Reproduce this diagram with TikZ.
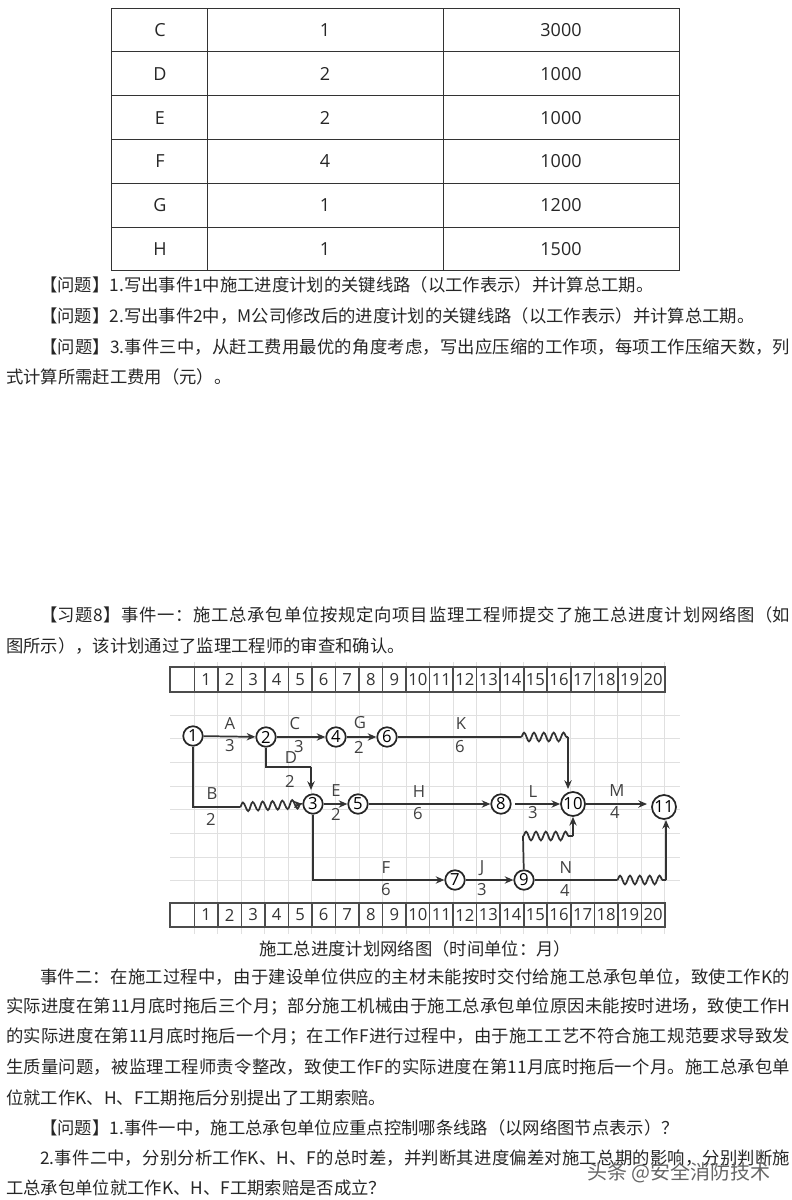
\documentclass[tikz,border=0pt]{standalone}
\usepackage{fontspec}
\setmainfont{Noto Sans CJK SC}
\newfontfamily\digitfont{Open Sans}
\usetikzlibrary{arrows.meta,decorations.pathmorphing}
\XeTeXlinebreaklocale "zh"
\XeTeXlinebreakskip=0pt plus 1.5pt minus 0.8pt
\newcommand{\bodyfont}{\fontsize{13pt}{16pt}\selectfont}
\newcommand{\gridfont}{\digitfont\fontsize{12.5pt}{14pt}\selectfont}
\tikzset{
    bodyline/.style={anchor=west, inner sep=0pt, font=\bodyfont, text=black!85},
    fullline/.style={bodyline, text width=#1, align=justify, execute at begin node={\parfillskip=0pt\relax}},
    tablecell/.style={inner sep=0pt, font=\digitfont\fontsize{13.5pt}{15pt}\selectfont, text=black!85},
    strip/.style={draw=black!70, line width=1.2pt},
    gridline/.style={black!12, line width=0.7pt},
    event/.style={draw=black!85, circle, fill=white, line width=1.3pt, minimum size=19.5*0.75pt, inner sep=0pt, font=\gridfont},
    bigevent/.style={event, minimum size=24*0.75pt},
    workline/.style={black!80, line width=1.3pt},
    workarrow/.style={workline, -{Stealth[length=6.5pt,width=5.5pt]}},
    lagline/.style={workline, decorate, decoration={snake, amplitude=3.3pt, segment length=7.4pt}},
    tasklabel/.style={inner sep=0pt, font=\gridfont, text=black!75},
    monthlabel/.style={inner sep=0pt, font=\gridfont, text=black!80}
}
\begin{document}
\begin{tikzpicture}[x=0.75pt, y=-0.75pt]
    \useasboundingbox (0,0) rectangle (792,1200);
    % table
    \foreach \r in {0,...,6}
    \draw[black!80, line width=0.75pt] (111,{8+43.83*\r}) -- (679,{8+43.83*\r});
    \foreach \x in {111,207,443,679}
    \draw[black!80, line width=0.75pt] (\x,8) -- (\x,271);
    \foreach \w/\d/\f [count=\r] in {C/1/3000, D/2/1000, E/2/1000, F/4/1000, G/1/1200, H/1/1500} {
        \node[tablecell] (work\r) at (160,{8+43.83*(\r-0.5)}) {\w};
        \node[tablecell] (days\r) at (325,{8+43.83*(\r-0.5)}) {\d};
        \node[tablecell] (cost\r) at (561,{8+43.83*(\r-0.5)}) {\f};
    }
    % text above the chart
    \node[bodyline] (q1) at (40,285) {【问题】1.写出事件1中施工进度计划的关键线路（以工作表示）并计算总工期。};
    \node[bodyline] (q2) at (40,316) {【问题】2.写出事件2中，M公司修改后的进度计划的关键线路（以工作表示）并计算总工期。};
    \node[fullline=750*0.75pt] (q3) at (40,347) {【问题】3.事件三中，从赶工费用最优的角度考虑，写出应压缩的工作项，每项工作压缩天数，列};
    \node[bodyline] (q3b) at (6,377) {式计算所需赶工费用（元）。};
    \node[fullline=750*0.75pt] (ex1) at (40,615) {【习题8】事件一：施工总承包单位按规定向项目监理工程师提交了施工总进度计划网络图（如};
    \node[bodyline] (ex2) at (6,646) {图所示），该计划通过了监理工程师的审查和确认。};
    % grid of the chart
    \foreach \i in {0,...,20}
    \draw[gridline] ({194.3+23.53*\i},662) -- ({194.3+23.53*\i},934);
    \foreach \y in {715,738,762,786,809,833,857,880}
    \draw[gridline] (170,\y) -- (680,\y);
    % month strips
    \foreach \t/\b in {667/692, 903/927} {
        \draw[strip] (170,\t) rectangle (665,\b);
        \draw[strip] (194.3,\t) -- (194.3,\b);
        \foreach \i in {1,...,20} {
            \draw[strip] ({194.3+23.53*\i},\t) -- ({194.3+23.53*\i},\b);
            \node[monthlabel] (m\t-\i) at ({194.3+23.53*(\i-0.5)},{(\t+\b)/2}) {\i};
        }
    }
    % events
    \node[event] (n1) at (193,736) {1};
    \node[event] (n2) at (266,737) {2};
    \node[event] (n3) at (313,804) {3};
    \node[event] (n4) at (336,737) {4};
    \node[event] (n5) at (358,804) {5};
    \node[event] (n6) at (387,737) {6};
    \node[event] (n7) at (455,880) {7};
    \node[event] (n8) at (501,804) {8};
    \node[event] (n9) at (524,880) {9};
    \node[bigevent] (n10) at (573,804) {10};
    \node[bigevent] (n11) at (664,807) {11};
    \coordinate (k1) at (521,737);
    \coordinate (k2) at (568,737);
    \coordinate (k3) at (568,789);
    \coordinate (b1) at (193,807);
    \coordinate (b2) at (240,807);
    \coordinate (d1) at (266,767);
    \coordinate (d2) at (311,767);
    \coordinate (d3) at (311,790);
    \coordinate (f1) at (313,880);
    \coordinate (r1) at (523,836);
    \coordinate (r2) at (573,836);
    \coordinate (s1) at (617,880);
    \coordinate (s2) at (666,880);
    \coordinate (s3) at (666,820);
    \coordinate (l0) at (515,804);
    \coordinate (m0) at (647,804);
    % works
    \foreach \i/\j in {n1/n2, n2/n4, n4/n6, n3/n5, n5/n8, n7/n9}
    \draw[workarrow] (\i) -- (\j);
    \draw[workarrow] (l0) -- (n10);
    \draw[workarrow] (n10) -- (m0);
    \draw[workline] (n6) -- (k1);
    \draw[lagline] (k1) -- (k2);
    \draw[workarrow] (k2) -- (k3);
    \draw[workline] (n2) |- (d2);
    \draw[workarrow] (d2) -- (d3);
    \draw[workline] (n1) |- (b2);
    \draw[lagline, -{Stealth[length=6.5pt,width=5.5pt]}] (b2) -- (n3.west);
    \draw[workarrow] (n3) |- (n7);
    \draw[workline] (n9) -- (r1);
    \draw[lagline] (r1) -- (r2);
    \draw[workarrow] (r2) -- (n10);
    \draw[workline] (n9) -- (s1);
    \draw[lagline] (s1) -- (s2);
    \draw[workarrow] (s2) -- (s3);
    % task labels
    \foreach \t/\x/\y [count=\c] in {A/230/724, 3/230/746, C/295/724, 3/299/747, G/360/723, 2/359/747,
        D/291/758, 2/290/781, B/212/794, 2/211/819, E/336/791, 2/336/814, H/419/792, 6/418/814,
        F/386/868, 6/386/890, K/461/724, 6/460/747, L/533/792, 3/533/813, M/617/791, 4/615/813,
        J/482/868, 3/482/890, N/566/868, 4/565/891}
    \node[tasklabel] (lab\c) at (\x,\y) {\t};
    \node[bodyline, anchor=center] (cap) at (415,949) {施工总进度计划网络图（时间单位：月）};
    % text below the chart
    \node[fullline=750*0.75pt] (t1) at (40,977) {事件二：在施工过程中，由于建设单位供应的主材未能按时交付给施工总承包单位，致使工作K的};
    \node[fullline=784*0.75pt] (t2) at (6,1007) {实际进度在第11月底时拖后三个月；部分施工机械由于施工总承包单位原因未能按时进场，致使工作H};
    \node[fullline=784*0.75pt] (t3) at (6,1037) {的实际进度在第11月底时拖后一个月；在工作F进行过程中，由于施工工艺不符合施工规范要求导致发};
    \node[fullline=784*0.75pt] (t4) at (6,1067) {生质量问题，被监理工程师责令整改，致使工作F的实际进度在第11月底时拖后一个月。施工总承包单};
    \node[bodyline] (t5) at (6,1098) {位就工作K、H、F工期拖后分别提出了工期索赔。};
    \node[bodyline] (t6) at (40,1128) {【问题】1.事件一中，施工总承包单位应重点控制哪条线路（以网络图节点表示）？};
    \node[fullline=750*0.75pt] (t7) at (40,1158) {2.事件二中，分别分析工作K、H、F的总时差，并判断其进度偏差对施工总期的影响，分别判断施};
    \node[bodyline] (t8) at (6,1188) {工总承包单位就工作K、H、F工期索赔是否成立？};
    \node[bodyline, text=black!60, font=\fontsize{15pt}{16pt}\selectfont] (mark) at (587,1173) {头条 @安全消防技术};
\end{tikzpicture}
\end{document}
